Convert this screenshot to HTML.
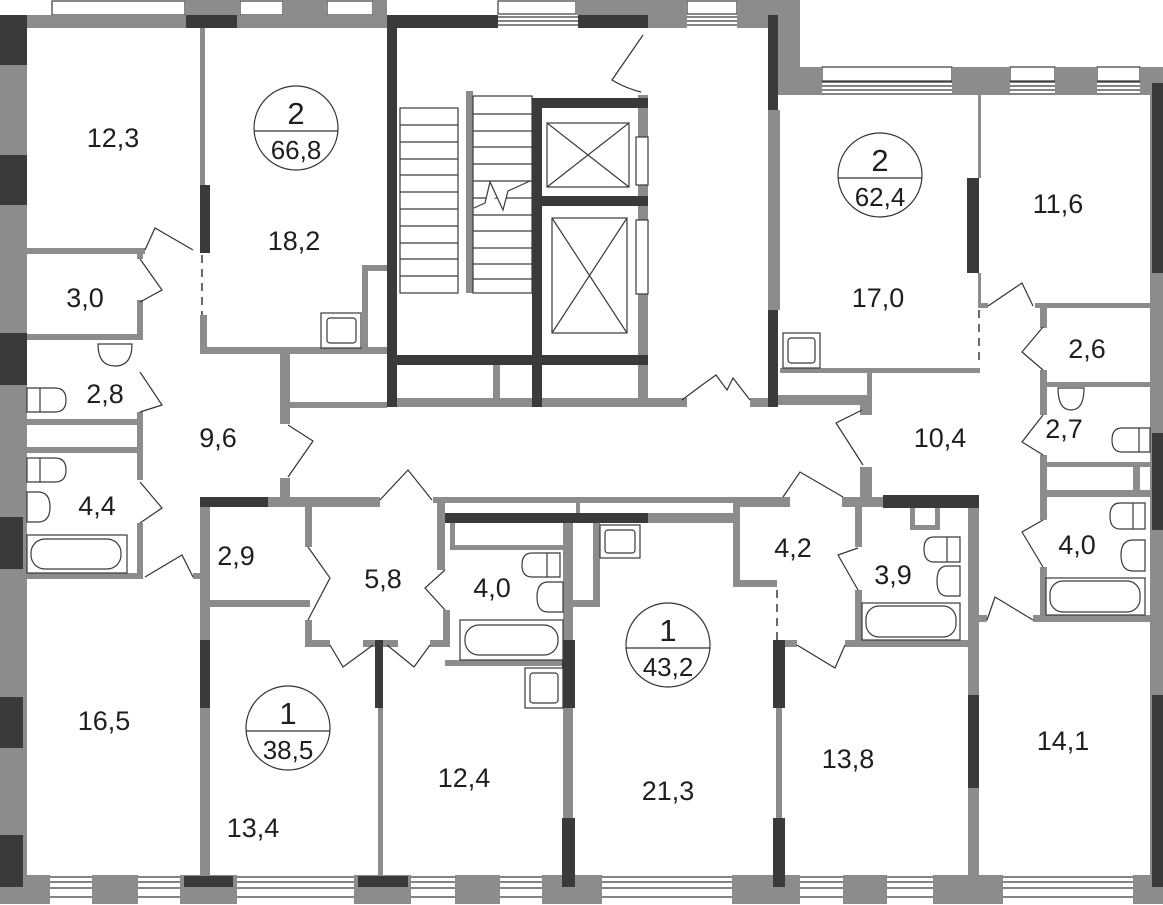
<!DOCTYPE html>
<html><head><meta charset="utf-8"><style>
html,body{margin:0;padding:0;background:#fff;}
svg{display:block;}
text{font-family:"Liberation Sans",Arial,sans-serif;fill:#1e1e1e;}
</style></head><body>
<svg width="1163" height="905" viewBox="0 0 1163 905" xmlns="http://www.w3.org/2000/svg">
<g stroke="#3a3a3a" stroke-width="1.2" fill="none">
  <path d="M52 16H185M52 20H185M52 24H185M52 27H185"/><rect x="52" y="1" width="133" height="14"/>
  <path d="M240 16H283M240 20H283M240 24H283M240 27H283"/><rect x="240" y="1" width="43" height="14"/>
  <path d="M327 16H373M327 20H373M327 24H373M327 27H373"/><rect x="327" y="1" width="46" height="14"/>
  <path d="M498 17H578M498 21H578M498 25H578"/><rect x="498" y="1" width="78" height="13"/>
  <path d="M687 17H737M687 21H737M687 25H737"/><rect x="687" y="1" width="50" height="13"/>
  <path d="M822 82H952M822 86H952M822 90H952M822 94H952"/><rect x="822" y="67" width="130" height="14"/>
  <path d="M1010 82H1055M1010 86H1055M1010 90H1055M1010 94H1055"/><rect x="1010" y="67" width="45" height="14"/>
  <path d="M1097 82H1140M1097 86H1140M1097 90H1140M1097 94H1140"/><rect x="1097" y="67" width="43" height="14"/>
  <path d="M23 877H1150M23 882H1150M23 888H1150M23 897H1150"/>
</g>
<g fill="#8c8c8c">
  <rect x="27" y="15" width="360" height="13"/>
  <rect x="185" y="0" width="55" height="15"/>
  <rect x="283" y="0" width="44" height="28"/>
  <rect x="373" y="0" width="14" height="28"/>
  <rect x="575" y="0" width="112" height="15"/>
  <rect x="647" y="15" width="40" height="13"/>
  <rect x="737" y="0" width="41" height="28"/>
  <rect x="778" y="0" width="22" height="95"/>
  <rect x="800" y="67" width="22" height="28"/>
  <rect x="952" y="67" width="58" height="28"/>
  <rect x="1055" y="67" width="42" height="28"/>
  <rect x="1140" y="67" width="23" height="28"/>
  <rect x="0" y="15" width="27" height="872"/>
  <rect x="1150" y="70" width="13" height="817"/>
  <rect x="0" y="875" width="50" height="29"/>
  <rect x="92" y="875" width="46" height="29"/>
  <rect x="180" y="875" width="57" height="29"/>
  <rect x="354" y="875" width="57" height="29"/>
  <rect x="455" y="875" width="45" height="29"/>
  <rect x="542" y="875" width="60" height="29"/>
  <rect x="732" y="875" width="68" height="29"/>
  <rect x="843" y="875" width="44" height="29"/>
  <rect x="933" y="875" width="70" height="29"/>
  <rect x="1133" y="875" width="30" height="29"/>

  <rect x="200" y="28" width="5" height="157"/>
  <rect x="27" y="248" width="118" height="6"/>
  <rect x="200" y="315" width="7" height="38"/>
  <rect x="200" y="347" width="187" height="7"/>
  <rect x="362" y="265" width="6" height="85"/>
  <rect x="362" y="265" width="25" height="6"/>
  <rect x="137" y="253" width="6" height="6"/>
  <rect x="137" y="300" width="6" height="40"/>
  <rect x="27" y="334" width="113" height="6"/>
  <rect x="137" y="412" width="6" height="13"/>
  <rect x="27" y="419" width="113" height="6"/>
  <rect x="27" y="447" width="113" height="6"/>
  <rect x="137" y="425" width="6" height="55"/>
  <rect x="137" y="523" width="6" height="55"/>
  <rect x="27" y="573" width="116" height="6"/>
  <rect x="193" y="573" width="10" height="6"/>
  <rect x="280" y="352" width="10" height="72"/>
  <rect x="290" y="402" width="97" height="6"/>
  <rect x="280" y="478" width="10" height="20"/>

  <rect x="638" y="95" width="10" height="305"/>
  <rect x="768" y="110" width="10" height="200"/>
  <rect x="397" y="398" width="290" height="9"/>
  <rect x="493" y="365" width="7" height="40"/>
  <rect x="750" y="398" width="18" height="9"/>
  <rect x="466" y="91" width="7" height="202"/>

  <rect x="768" y="110" width="12" height="200"/>
  <rect x="978" y="95" width="3" height="83"/>
  <rect x="978" y="273" width="3" height="35"/>
  <rect x="780" y="368" width="200" height="5"/>
  <rect x="867" y="373" width="5" height="32"/>
  <rect x="778" y="395" width="94" height="10"/>
  <rect x="980" y="303" width="8" height="5"/>
  <rect x="1035" y="303" width="115" height="5"/>
  <rect x="1040" y="308" width="7" height="20"/>
  <rect x="1040" y="370" width="7" height="45"/>
  <rect x="1045" y="382" width="105" height="5"/>
  <rect x="1040" y="455" width="7" height="65"/>
  <rect x="1045" y="462" width="105" height="5"/>
  <rect x="1045" y="490" width="105" height="7"/>
  <rect x="1133" y="462" width="7" height="35"/>
  <rect x="1040" y="567" width="7" height="52"/>
  <rect x="1033" y="615" width="117" height="7"/>
  <rect x="968" y="615" width="19" height="7"/>
  <rect x="860" y="405" width="12" height="10"/>
  <rect x="860" y="467" width="12" height="30"/>

  <rect x="200" y="497" width="10" height="390"/>
  <rect x="268" y="497" width="112" height="10"/>
  <rect x="433" y="497" width="307" height="6"/>
  <rect x="648" y="513" width="92" height="10"/>
  <rect x="733" y="497" width="7" height="90"/>
  <rect x="740" y="580" width="37" height="7"/>
  <rect x="210" y="600" width="100" height="7"/>
  <rect x="305" y="507" width="7" height="40"/>
  <rect x="305" y="620" width="7" height="27"/>
  <rect x="305" y="640" width="25" height="7"/>
  <rect x="363" y="640" width="12" height="7"/>
  <rect x="383" y="640" width="15" height="7"/>
  <rect x="430" y="640" width="13" height="7"/>
  <rect x="437" y="503" width="8" height="67"/>
  <rect x="443" y="610" width="7" height="37"/>
  <rect x="450" y="523" width="5" height="22"/>
  <rect x="450" y="545" width="115" height="5"/>
  <rect x="445" y="660" width="120" height="6"/>
  <rect x="378" y="708" width="5" height="168"/>
  <rect x="563" y="523" width="10" height="295"/>
  <rect x="573" y="600" width="27" height="7"/>
  <rect x="593" y="523" width="7" height="80"/>
  <rect x="576" y="503" width="4" height="10"/>

  <rect x="776" y="708" width="6" height="110"/>
  <rect x="740" y="497" width="50" height="10"/>
  <rect x="842" y="497" width="41" height="10"/>
  <rect x="855" y="507" width="7" height="40"/>
  <rect x="855" y="590" width="7" height="55"/>
  <rect x="855" y="640" width="115" height="7"/>
  <rect x="784" y="640" width="13" height="7"/>
  <rect x="845" y="640" width="13" height="7"/>
  <rect x="968" y="507" width="11" height="188"/>
  <rect x="968" y="788" width="11" height="99"/>
  <rect x="910" y="507" width="5" height="23"/>
  <rect x="910" y="525" width="30" height="5"/>
  <rect x="935" y="507" width="5" height="23"/>
  <rect x="1040" y="460" width="7" height="60"/>
</g>
<g fill="#3a3a3a">
  <rect x="0" y="15" width="27" height="50"/>
  <rect x="0" y="155" width="27" height="50"/>
  <rect x="0" y="333" width="27" height="52"/>
  <rect x="0" y="517" width="23" height="52"/>
  <rect x="0" y="697" width="23" height="51"/>
  <rect x="0" y="835" width="23" height="52"/>
  <rect x="186" y="15" width="51" height="13"/>
  <rect x="387" y="15" width="111" height="13"/>
  <rect x="578" y="15" width="70" height="13"/>
  <rect x="387" y="15" width="10" height="392"/>
  <rect x="532" y="98" width="10" height="309"/>
  <rect x="542" y="98" width="106" height="10"/>
  <rect x="542" y="196" width="106" height="10"/>
  <rect x="397" y="355" width="251" height="10"/>
  <rect x="768" y="15" width="10" height="95"/>
  <rect x="768" y="310" width="10" height="97"/>
  <rect x="1152" y="83" width="11" height="190"/>
  <rect x="1152" y="433" width="11" height="97"/>
  <rect x="1152" y="695" width="11" height="192"/>
  <rect x="200" y="185" width="10" height="68"/>
  <rect x="967" y="178" width="12" height="95"/>
  <rect x="200" y="497" width="68" height="10"/>
  <rect x="200" y="640" width="10" height="68"/>
  <rect x="445" y="513" width="203" height="10"/>
  <rect x="375" y="640" width="8" height="68"/>
  <rect x="562" y="640" width="13" height="68"/>
  <rect x="562" y="818" width="13" height="69"/>
  <rect x="773" y="640" width="12" height="68"/>
  <rect x="773" y="818" width="12" height="69"/>
  <rect x="883" y="495" width="96" height="13"/>
  <rect x="968" y="695" width="11" height="93"/>
  <rect x="184" y="876" width="49" height="11"/>
  <rect x="358" y="876" width="50" height="11"/>
</g>
<g stroke="#3a3a3a" stroke-width="1.5" stroke-dasharray="8,6" fill="none">
  <path d="M202 255V315"/><path d="M979 310V366"/><path d="M777 590V640"/>
</g>
<g stroke="#3a3a3a" stroke-width="1.2" fill="none">
  <rect x="400" y="108" width="58" height="185"/>
  <path d="M400 125H458M400 142H458M400 159H458M400 175H458M400 192H458M400 209H458M400 226H458M400 243H458M400 259H458M400 276H458"/>
  <rect x="473" y="96" width="59" height="197"/>
  <path d="M473 114H532M473 131H532M473 147H532M473 164H532M473 181H532M473 198H532M473 215H532M473 231H532M473 248H532M473 264H532M473 279H532"/>
  <path d="M474 208L485 203L490 182L503 210L508 191L530 181" fill="#fff"/>
  <rect x="547" y="123" width="82" height="64"/><path d="M547 123L629 187M629 123L547 187"/>
  <rect x="552" y="218" width="75" height="115"/><path d="M552 218L627 333M627 218L552 333"/>
  <rect x="636" y="137" width="12" height="48" fill="#fff"/>
  <rect x="636" y="220" width="12" height="74" fill="#fff"/>
</g>
<g stroke="#333" stroke-width="1.2" fill="none">
  <path d="M643 35L612 80Q625 88 641 92"/>
  <path d="M682 400L702 385L716 375L727 390L733 378L750 400"/>
  <path d="M145 250L155 228L193 250"/>
  <path d="M140 259L162 290L140 302"/>
  <path d="M140 372L162 405L140 412"/>
  <path d="M140 482L162 508L140 523"/>
  <path d="M145 577L182 555L193 577"/>
  <path d="M288 425L313 441L288 477"/>
  <path d="M380 500L408 470L432 500"/>
  <path d="M308 547L330 578L308 620"/>
  <path d="M330 645L343 667L373 645"/>
  <path d="M387 645L414 667L430 645"/>
  <path d="M445 570L425 588L445 610"/>
  <path d="M783 497L800 472L843 497"/>
  <path d="M862 410L836 423L863 465"/>
  <path d="M797 645L835 668L845 645"/>
  <path d="M858 548L838 555L858 590"/>
  <path d="M988 306L1022 283L1033 306"/>
  <path d="M1043 327L1022 352L1043 370"/>
  <path d="M1043 415L1022 442L1043 455"/>
  <path d="M1043 520L1022 532L1043 567"/>
  <path d="M987 620L995 597L1033 620"/>
</g>
<g stroke="#3a3a3a" stroke-width="1.2" fill="#fff">
  <rect x="321" y="313" width="40" height="35"/><rect x="327" y="318" width="29" height="25" rx="3"/>
  <rect x="783" y="333" width="37" height="35"/><rect x="788" y="338" width="27" height="25" rx="3"/>
  <rect x="600" y="525" width="40" height="33"/><rect x="605" y="530" width="30" height="23" rx="3"/>
  <rect x="525" y="668" width="38" height="40"/><rect x="530" y="673" width="28" height="30" rx="3"/>
  <path d="M98 344H132Q132 366 115 366Q98 366 98 344Z"/>
  <path d="M1058 388H1084Q1084 410 1071 410Q1058 410 1058 388Z"/>
  <path d="M27 388H55Q66 388 66 400Q66 412 55 412H27Z"/><path d="M40 388V412"/>
  <path d="M27 458H55Q66 458 66 470Q66 482 55 482H27Z"/><path d="M40 458V482"/>
  <path d="M27 492H38Q50 492 50 507Q50 522 38 522H27Z"/>
  <rect x="27" y="535" width="100" height="38"/><rect x="31" y="539" width="90" height="30" rx="14"/>
  <path d="M1150 428H1122Q1112 428 1112 440Q1112 452 1122 452H1150Z"/><path d="M1139 428V452"/>
  <path d="M560 553H532Q522 553 522 565Q522 577 532 577H560Z"/><path d="M547 553V577"/>
  <path d="M563 582H548Q537 582 537 597Q537 612 548 612H563Z"/>
  <rect x="460" y="620" width="103" height="40"/><rect x="465" y="625" width="93" height="30" rx="14"/>
  <path d="M960 537H934Q924 537 924 549Q924 562 934 562H960Z"/><path d="M947 537V562"/>
  <path d="M960 566H947Q937 566 937 581Q937 596 947 596H960Z"/>
  <rect x="862" y="603" width="98" height="37"/><rect x="866" y="606" width="90" height="31" rx="13"/>
  <path d="M1145 503H1120Q1110 503 1110 516Q1110 529 1120 529H1145Z"/><path d="M1133 503V529"/>
  <path d="M1145 540H1133Q1121 540 1121 555Q1121 571 1133 571H1145Z"/>
  <rect x="1046" y="578" width="99" height="37"/><rect x="1050" y="581" width="90" height="31" rx="13"/>
</g>
<g stroke="#333" stroke-width="1.2" fill="none">
  <circle cx="296" cy="128" r="42"/><path d="M254 131H338"/>
  <circle cx="880" cy="175" r="42"/><path d="M838 178H922"/>
  <circle cx="668" cy="645" r="42"/><path d="M626 648H710"/>
  <circle cx="288" cy="728" r="42"/><path d="M246 731H330"/>
</g>
<g font-size="31" text-anchor="middle">
  <text x="296" y="124">2</text><text x="296" y="159" font-size="26">66,8</text>
  <text x="880" y="171">2</text><text x="880" y="206" font-size="26">62,4</text>
  <text x="668" y="641">1</text><text x="668" y="676" font-size="26">43,2</text>
  <text x="288" y="724">1</text><text x="288" y="759" font-size="26">38,5</text>
</g>
<g font-size="27" text-anchor="middle">
  <text x="113" y="147">12,3</text>
  <text x="294" y="250">18,2</text>
  <text x="85" y="307">3,0</text>
  <text x="105" y="403">2,8</text>
  <text x="218" y="447">9,6</text>
  <text x="97" y="515">4,4</text>
  <text x="236" y="565">2,9</text>
  <text x="383" y="588">5,8</text>
  <text x="492" y="597">4,0</text>
  <text x="104" y="730">16,5</text>
  <text x="253" y="837">13,4</text>
  <text x="464" y="787">12,4</text>
  <text x="668" y="800">21,3</text>
  <text x="793" y="557">4,2</text>
  <text x="893" y="584">3,9</text>
  <text x="848" y="768">13,8</text>
  <text x="1063" y="750">14,1</text>
  <text x="1077" y="554">4,0</text>
  <text x="1064" y="438">2,7</text>
  <text x="1087" y="358">2,6</text>
  <text x="940" y="447">10,4</text>
  <text x="878" y="307">17,0</text>
  <text x="1058" y="213">11,6</text>
</g>
</svg>
</body></html>
